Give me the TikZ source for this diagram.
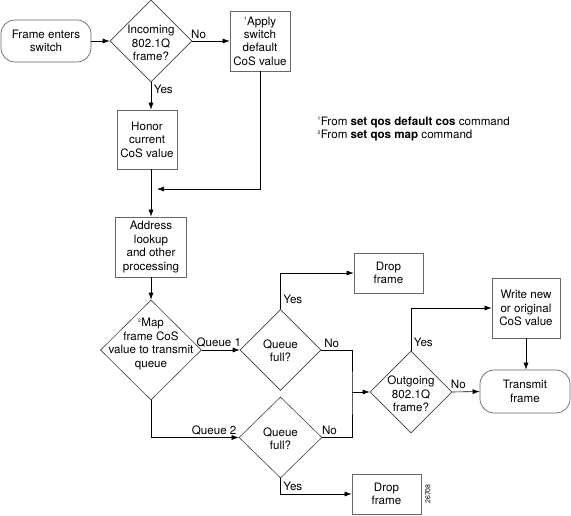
\documentclass[tikz,border=0pt]{standalone}
\usepackage{fontspec}
\setmainfont{TeX Gyre Heros}
\usetikzlibrary{shapes.geometric,arrows.meta}

\begin{document}
\begin{tikzpicture}[x=1pt, y=-1pt,
    font=\fontsize{11.6}{13.4}\selectfont,
    box/.style={draw=black!60, line width=0.7pt, align=center, inner sep=0pt},
    term/.style={box, rounded corners=14pt},
    choice/.style={draw=black!75, line width=0.6pt, diamond, inner sep=0pt},
    flow/.style={draw=black, line width=0.6pt, -{Latex[length=7pt,width=5pt]}},
    link/.style={draw=black, line width=0.6pt},
    tag/.style={inner sep=2.5pt}]
  \useasboundingbox (0,0) rectangle (571,516);
  % \draw[very thin, gray, step=10] (0,0) grid (571,516);

  \node[term, minimum width=90, minimum height=42] (enter) at (46,41) {Frame enters\\switch};
  \node[choice, minimum width=82, minimum height=82] (incoming) at (151,41) {};
  \node[align=center] (incomingtxt) at (151,43) {Incoming\\802.1Q\\frame?};
  \node[box, minimum width=60, minimum height=60] (apply) at (260,41) {\textsuperscript{\tiny 1}Apply\\switch\\default\\CoS value};
  \node[box, minimum width=60, minimum height=59] (honor) at (147,139.5) {Honor\\current\\CoS value};
  \node[box, minimum width=71, minimum height=60] (address) at (151,247) {Address\\lookup\\and other\\processing};
  \coordinate (merge) at (157,189);

  \node[choice, minimum width=101, minimum height=100] (map) at (151,350) {};
  \node[align=center] (maptxt) at (151,344) {\textsuperscript{\tiny 2}Map\\frame CoS\\value to transmit\\queue};
  \node[choice, minimum width=81, minimum height=81] (qfull1) at (280.5,350) {};
  \node[align=center] (qfull1txt) at (280.5,351) {Queue\\full?};
  \node[choice, minimum width=83, minimum height=81] (qfull2) at (280.5,437.5) {};
  \node[align=center] (qfull2txt) at (280.5,439) {Queue\\full?};
  \node[box, minimum width=69, minimum height=40] (drop1) at (388.5,273) {Drop\\frame};
  \node[box, minimum width=69, minimum height=40] (drop2) at (386.5,494) {Drop\\frame};
  \coordinate (bus) at (352,392);

  \node[choice, minimum width=82, minimum height=82] (outgoing) at (411,392) {};
  \node[align=center] (outgoingtxt) at (411,394) {Outgoing\\802.1Q\\frame?};
  \node[box, minimum width=68, minimum height=60] (write) at (526,308) {Write new\\or original\\CoS value};
  \node[term, minimum width=90, minimum height=43] (transmit) at (525,391.5) {Transmit\\frame};

  \node[anchor=west, align=left] (notes) at (314,129) {\textsuperscript{\tiny 1}From \textbf{set qos default cos} command\\\textsuperscript{\tiny 2}From \textbf{set qos map} command};
  \node[rotate=90, font=\scriptsize] (figid) at (428,494) {26708};

  \draw[flow] (enter.east) -- (incoming.west);
  \draw[flow] (incoming.east) -- node[tag, above, pos=0.17] {No} (apply.west);
  \draw[flow] (incoming.south) -- node[tag, right, pos=0.25] {Yes} (incoming.south |- honor.north);
  \draw[flow] (incoming.south |- honor.south) -- (address.north);
  \draw[flow] (apply.south) |- (merge);
  \draw[flow] (address.south) -- (map.north);
  \draw[flow] (map.east) -- node[tag, above, pos=0.45] {Queue 1} (qfull1.west);
  \draw[flow] (map.south) |- node[tag, above, pos=0.86] {Queue 2} (qfull2.west);
  \draw[flow] (qfull1.north) |- node[tag, right, pos=0.14] {Yes} (drop1.west);
  \draw[flow] (qfull2.south) |- node[tag, right, pos=0.25] {Yes} (drop2.west);
  \draw[link] (qfull1.east) -| node[tag, above, pos=0.17] {No} (bus) |- node[tag, above, pos=0.88] {No} (qfull2.east);
  \draw[flow] (bus) -- (outgoing.west);
  \draw[flow] (outgoing.north) |- node[tag, right, pos=0.1] {Yes} (write.west);
  \draw[flow] (outgoing.east) -- node[tag, above, pos=0.22] {No} (transmit.west);
  \draw[flow] (write.south) -- (write.south |- transmit.north);
\end{tikzpicture}
\end{document}
